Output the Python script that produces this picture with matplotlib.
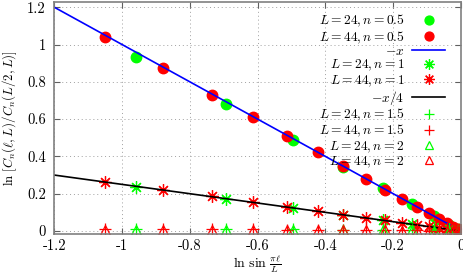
import matplotlib
matplotlib.use("Agg")
import matplotlib.pyplot as plt
from matplotlib.ticker import FixedLocator, FuncFormatter

plt.rcParams['font.family'] = ['cmr10', 'DejaVu Serif']
plt.rcParams['mathtext.fontset'] = 'cm'
plt.rcParams['axes.unicode_minus'] = False

# x = ln sin(pi*l/L)
x24 = [-0.960, -0.693, -0.496, -0.347, -0.231, -0.144, -0.079, -0.035, -0.009, 0.0]
x44 = [-1.051, -0.878, -0.735, -0.615, -0.512, -0.423, -0.347, -0.280, -0.223,
       -0.173, -0.131, -0.095, -0.065, -0.041, -0.023, -0.010, -0.003, 0.0]

y24_n05 = [0.935, 0.680, 0.490, 0.343, 0.229, 0.143, 0.078, 0.034, 0.009, 0.0]
y44_n05 = [1.040, 0.872, 0.731, 0.612, 0.510, 0.422, 0.346, 0.279, 0.222,
           0.172, 0.130, 0.094, 0.064, 0.041, 0.023, 0.010, 0.003, 0.0]
y24_n1 = [0.236, 0.172, 0.124, 0.088, 0.060, 0.038, 0.021, 0.010, 0.003, 0.0]
y44_n1 = [0.265, 0.220, 0.186, 0.156, 0.130, 0.107, 0.088, 0.071, 0.057,
          0.044, 0.034, 0.025, 0.017, 0.011, 0.006, 0.003, 0.001, 0.0]
y24_n15 = [0.012, 0.010, 0.009, 0.008, 0.006, 0.005, 0.003, 0.002, 0.001, 0.0]
y44_n15 = [0.012, 0.011, 0.010, 0.009, 0.008, 0.007, 0.006, 0.005, 0.004,
           0.004, 0.003, 0.002, 0.002, 0.001, 0.001, 0.0, 0.0, 0.0]
y24_n2 = [0.008, 0.007, 0.006, 0.005, 0.004, 0.003, 0.002, 0.001, 0.0, 0.0]
y44_n2 = [0.008, 0.008, 0.007, 0.006, 0.006, 0.005, 0.004, 0.003, 0.003,
          0.002, 0.002, 0.001, 0.001, 0.001, 0.0, 0.0, 0.0, 0.0]

xline = [-1.2, 0.0]

xticks = [-1.2, -1.0, -0.8, -0.6, -0.4, -0.2, 0.0]
yticks = [0.0, 0.2, 0.4, 0.6, 0.8, 1.0, 1.2]

fig = plt.figure(figsize=(4.64, 2.74), dpi=100)
ax = fig.add_axes([0.117, 0.146, 0.9935 - 0.117, 0.994 - 0.146])

green = '#00ff00'
red = '#ff0000'
ms_c = 7.5
ax.plot(x24, y24_n05, 'o', color=green, ms=ms_c, mec=green, label=r'$L=24,n=0.5$')
ax.plot(x44, y44_n05, 'o', color=red, ms=ms_c, mec=red, label=r'$L=44,n=0.5$')
ax.plot(xline, [-v for v in xline], '-', color='#0000ff', lw=1.2, label=r'$-x$')
ast = (8, 2, 0)
ax.plot(x24, y24_n1, ls='none', marker=ast, color=green, ms=9, mew=0.9, label=r'$L=24,n=1$')
ax.plot(x44, y44_n1, ls='none', marker=ast, color=red, ms=9, mew=0.9, label=r'$L=44,n=1$')
ax.plot(xline, [-v / 4 for v in xline], '-', color='black', lw=1.2, label=r'$-x/4$')
ax.plot(x24, y24_n15, ls='none', marker='+', color=green, ms=9, mew=0.9, label=r'$L=24,n=1.5$')
ax.plot(x44, y44_n15, ls='none', marker='+', color=red, ms=9, mew=0.9, label=r'$L=44,n=1.5$')
ax.plot(x24, y24_n2, ls='none', marker='^', mfc='none', mec=green, ms=7, mew=0.9, label=r'$L=24,n=2$')
ax.plot(x44, y44_n2, ls='none', marker='^', mfc='none', mec=red, ms=7, mew=0.9, label=r'$L=44,n=2$')

ax.set_xlim(-1.2, 0.0)
ax.set_ylim(-0.016, 1.23)
ax.xaxis.set_major_locator(FixedLocator(xticks))
ax.yaxis.set_major_locator(FixedLocator(yticks))
fmt = FuncFormatter(lambda v, p: ('%g' % round(v, 2)).replace('\u2212', '-'))
ax.xaxis.set_major_formatter(fmt)
ax.yaxis.set_major_formatter(fmt)
ax.tick_params(direction='in', top=True, right=True, length=4, width=0.8,
               color='#606060', labelsize=10.5)
ax.tick_params(axis='x', pad=3.5)
ax.tick_params(axis='y', pad=6)
for s in ax.spines.values():
    s.set_color('#808080')
    s.set_linewidth(1.2)
ax.grid(True, ls=(0, (1, 3)), color='#a0a0a0', lw=0.7)
ax.set_axisbelow(True)

ax.set_xlabel(r'$\ln\,\sin\,\frac{\pi\ell}{L}$', fontsize=10, labelpad=0.5)
ax.set_ylabel(r'$\ln\,[C_n(\ell,L)/C_n(L/2,L)]$', fontsize=9.3, labelpad=6)

leg = ax.legend(loc='upper right', bbox_to_anchor=(1.0, 1.02), markerfirst=False,
                frameon=False, fontsize=9.7, labelspacing=0.0, handlelength=2.4,
                handletextpad=0.6, borderaxespad=0.8, numpoints=1, markerscale=0.85)

fig.savefig('out.png', dpi=100)
